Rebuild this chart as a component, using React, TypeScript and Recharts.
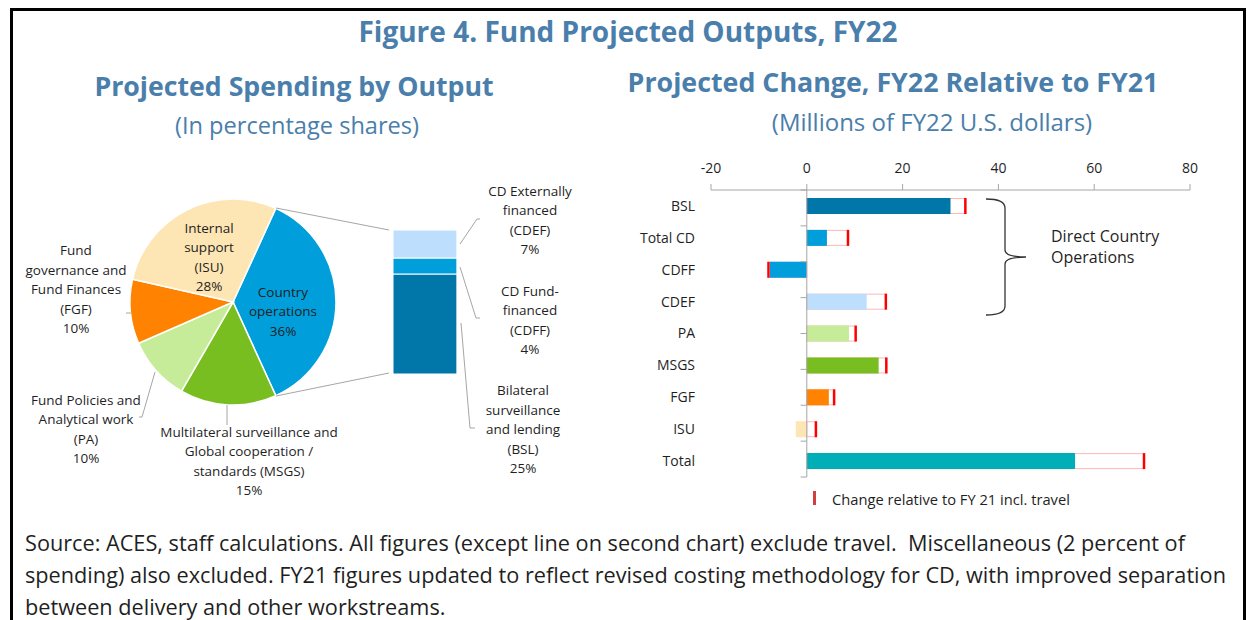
import React from "react";
import { Bar, BarChart, Cell, Pie, PieChart, ReferenceLine, XAxis, YAxis } from "recharts";

const FONT = "'Open Sans', 'Noto Sans', sans-serif";
const TITLE_BLUE = "#4A7EAB";
const INK = "#1F1F1F";
const AXIS_GREY = "#A6A6A6";

// left panel: projected spending by output (percentage shares)
const PIE_NAMES = ["Country operations", "MSGS", "PA", "FGF", "ISU"];
const PIE_SHARES = [36, 15, 10, 10, 28];
const PIE_COLOURS = ["#009EDB", "#78BE20", "#C6EC9A", "#FF8300", "#FDE5B4"];
const PIE_LABELS = [
  ["Country", "operations", "36%"],
  ["Multilateral surveillance and", "Global cooperation /", "standards (MSGS)", "15%"],
  ["Fund Policies and", "Analytical work", "(PA)", "10%"],
  ["Fund", "governance and", "Fund Finances", "(FGF)", "10%"],
  ["Internal", "support", "(ISU)", "28%"],
];

// country operations split
const CO_KEYS = ["BSL", "CDFF", "CDEF"];
const CO_SHARES = [25, 4, 7];
const CO_COLOURS = ["#0077A8", "#009EDB", "#BDDEFC"];

// right panel: change FY22 vs FY21, millions of FY22 USD
const CATEGORIES = ["BSL", "Total CD", "CDFF", "CDEF", "PA", "MSGS", "FGF", "ISU", "Total"];
const CHANGE_EX_TRAVEL = [30.0, 4.2, -7.7, 12.5, 8.8, 15.0, 4.6, -2.3, 56.0];
const CHANGE_INCL_TRAVEL = [33.1, 8.6, -8.0, 16.5, 10.2, 16.6, 5.7, 1.9, 70.4];
const BAR_COLOURS = ["#0077A8", "#009EDB", "#009EDB", "#BDDEFC", "#C6EC9A", "#78BE20", "#FF8300", "#FDE5B4", "#00AEB8"];
const X_TICKS = [-20, 0, 20, 40, 60, 80];

const FOOTNOTE = [
  "Source: ACES, staff calculations. All figures (except line on second chart) exclude travel.  Miscellaneous (2 percent of",
  "spending) also excluded. FY21 figures updated to reflect revised costing methodology for CD, with improved separation",
  "between delivery and other workstreams.",
];

// label placement relative to pie centre (text block centre) + leader lines
const PIE_LABEL_POS = [
  { dx: 50, dy: 9 },
  { dx: 16, dy: 159 },
  { dx: -147, dy: 127 },
  { dx: -157, dy: -13 },
  { dx: -24, dy: -45 },
];
const PIE_LEADERS: number[][][] = [
  [],
  [[-6, 103], [-6, 123]],
  [[-94, 115], [-91, 115], [-78, 70]],
  [[-107, 11], [-102, 11]],
  [],
];
const LINE_H = 19.5;

const pieData = PIE_NAMES.map((name, i) => ({ name, value: PIE_SHARES[i] }));
const pieTotal = PIE_SHARES.reduce((a, b) => a + b, 0);
const startAngle = ((PIE_SHARES[0] / pieTotal) * 360) / 2;

const coData = [Object.fromEntries([["name", "co"], ...CO_KEYS.map((k, i) => [k, CO_SHARES[i]])])];

const changeData = CATEGORIES.map((name, i) => ({
  name,
  ex: CHANGE_EX_TRAVEL[i],
  incl: CHANGE_INCL_TRAVEL[i],
}));

function Lines({ x, y, lines, size = 13.5, anchor = "middle" }: any) {
  const top = y - ((lines.length - 1) * LINE_H) / 2;
  return (
    <text x={x} y={top} textAnchor={anchor} fontSize={size} fontFamily={FONT} fill={INK}>
      {lines.map((l: string, i: number) => (
        <tspan key={i} x={x} y={top + i * LINE_H} dominantBaseline="central">
          {l}
        </tspan>
      ))}
    </text>
  );
}

function pieLabel(props: any) {
  const { cx, cy, index } = props;
  const p = PIE_LABEL_POS[index];
  const leader = PIE_LEADERS[index];
  return (
    <g>
      {leader.length > 0 && (
        <polyline
          points={leader.map(([dx, dy]) => `${cx + dx},${cy + dy}`).join(" ")}
          fill="none"
          stroke={AXIS_GREY}
          strokeWidth={1}
        />
      )}
      <Lines x={cx + p.dx} y={cy + p.dy} lines={PIE_LABELS[index]} />
    </g>
  );
}

function TravelBar(props: any) {
  const { x, y, width, height, payload } = props;
  const left = Math.min(x, x + width);
  const w = Math.abs(width);
  const end = payload.incl >= 0 ? left + w : left;
  return (
    <g>
      <rect x={left} y={y + 0.5} width={w} height={height - 1} fill="#FFFFFF" stroke="#FFB8B8" strokeWidth={1} />
      <line x1={end} x2={end} y1={y} y2={y + height} stroke="#FF0000" strokeWidth={2.5} />
    </g>
  );
}

function Txt({ cx, cy, size, bold, color = INK, children, w = 900 }: any) {
  return (
    <div
      style={{
        position: "absolute",
        left: cx - w / 2,
        top: cy - size * 0.7,
        width: w,
        height: size * 1.4,
        lineHeight: `${size * 1.4}px`,
        textAlign: "center",
        fontSize: size,
        fontWeight: bold ? 700 : 400,
        color,
        whiteSpace: "nowrap",
        fontFamily: FONT,
      }}
    >
      {children}
    </div>
  );
}

export default function App() {
  return (
    <div style={{ position: "absolute", left: 0, top: 0, width: 1247, height: 620, overflow: "hidden", background: "#fff", fontFamily: FONT }}>
      <div style={{ position: "absolute", left: 10, top: 8, width: 1236, height: 700, border: "3px solid #000", boxSizing: "border-box" }} />

      <Txt cx={628} cy={32} size={28} bold color={TITLE_BLUE}>Figure 4. Fund Projected Outputs, FY22</Txt>
      <Txt cx={294} cy={86} size={26.7} bold color={TITLE_BLUE}>Projected Spending by Output</Txt>
      <Txt cx={297} cy={126} size={23.6} color={TITLE_BLUE}>(In percentage shares)</Txt>
      <Txt cx={893} cy={82} size={26.8} bold color={TITLE_BLUE}>Projected Change, FY22 Relative to FY21</Txt>
      <Txt cx={932} cy={122} size={24} color={TITLE_BLUE}>(Millions of FY22 U.S. dollars)</Txt>

      {/* pie */}
      <div style={{ position: "absolute", left: 0, top: 170, width: 380, height: 340 }}>
        <PieChart width={380} height={340} margin={{ top: 0, right: 0, bottom: 0, left: 0 }}>
          <Pie
            data={pieData}
            dataKey="value"
            cx={233}
            cy={132}
            outerRadius={103}
            startAngle={startAngle}
            endAngle={startAngle - 360}
            stroke="#FFFFFF"
            strokeWidth={1.5}
            label={pieLabel}
            labelLine={false}
            isAnimationActive={false}
          >
            {pieData.map((d, i) => (
              <Cell key={d.name} fill={PIE_COLOURS[i]} />
            ))}
          </Pie>
        </PieChart>
      </div>

      {/* country operations split */}
      <div style={{ position: "absolute", left: 380, top: 220, width: 90, height: 170 }}>
        <BarChart width={90} height={170} data={coData} margin={{ top: 10, right: 10, bottom: 16, left: 9 }} barCategoryGap={0}>
          <XAxis dataKey="name" hide />
          <YAxis domain={[0, 36]} hide />
          {CO_KEYS.map((k, i) => (
            <Bar key={k} dataKey={k} stackId="co" fill={CO_COLOURS[i]} stroke="#FFFFFF" strokeWidth={1} barSize={71} isAnimationActive={false} />
          ))}
        </BarChart>
      </div>

      {/* change chart */}
      <div style={{ position: "absolute", left: 620, top: 140, width: 600, height: 360 }}>
        <BarChart
          layout="vertical"
          width={600}
          height={360}
          data={changeData}
          margin={{ top: 20, right: 30, bottom: 23, left: 0 }}
          barSize={16}
        >
          <XAxis
            type="number"
            orientation="top"
            domain={[-20, 80]}
            ticks={X_TICKS}
            height={30}
            axisLine={{ stroke: AXIS_GREY }}
            tickLine={{ stroke: AXIS_GREY }}
            tickSize={6}
            tickMargin={11}
            tick={{ fill: INK, fontSize: 14, fontFamily: FONT }}
          />
          <YAxis
            yAxisId="cat"
            type="category"
            dataKey="name"
            width={91}
            axisLine={false}
            tickLine={false}
            tickSize={0}
            tickMargin={16}
            interval={0}
            tick={{ fill: INK, fontSize: 14, fontFamily: FONT }}
          />
          <YAxis yAxisId="cat2" type="category" dataKey="name" hide />
          <YAxis yAxisId="num" type="number" domain={[0, CATEGORIES.length]} hide />
          <ReferenceLine yAxisId="cat" x={0} stroke={AXIS_GREY} />
          {CATEGORIES.map((c, k) => (
            <ReferenceLine
              key={c}
              yAxisId="num"
              segment={[{ x: -1.3, y: k }, { x: 0, y: k }]}
              stroke={AXIS_GREY}
            />
          ))}
          <Bar yAxisId="cat2" dataKey="incl" shape={TravelBar} isAnimationActive={false} />
          <Bar yAxisId="cat" dataKey="ex" isAnimationActive={false}>
            {changeData.map((d, i) => (
              <Cell key={d.name} fill={BAR_COLOURS[i]} />
            ))}
          </Bar>
        </BarChart>
      </div>

      {/* annotations */}
      <svg width={1247} height={620} style={{ position: "absolute", left: 0, top: 0, pointerEvents: "none" }}>
        <line x1={276} y1={208} x2={389} y2={230} stroke={AXIS_GREY} />
        <line x1={276} y1={396} x2={389} y2={373} stroke={AXIS_GREY} />
        <polyline points="460,244 477,219 480,219" fill="none" stroke={AXIS_GREY} />
        <polyline points="460,267 476,318 480,318" fill="none" stroke={AXIS_GREY} />
        <polyline points="461,323 470,428 475,428" fill="none" stroke={AXIS_GREY} />
        <Lines x={530} y={220} lines={["CD Externally", "financed", "(CDEF)", "7%"]} />
        <Lines x={530} y={320} lines={["CD Fund-", "financed", "(CDFF)", "4%"]} />
        <Lines x={523} y={429} lines={["Bilateral", "surveillance", "and lending", "(BSL)", "25%"]} />

        <path
          d="M986,199 Q1005,199 1005,208 L1005,250 Q1005,257 1026,257 Q1005,257 1005,264 L1005,306 Q1005,315 986,315"
          fill="none"
          stroke="#333"
          strokeWidth={1.3}
        />
        <text x={1051} y={236} fontSize={16} fontFamily={FONT} fill={INK} dominantBaseline="central">Direct Country</text>
        <text x={1051} y={257} fontSize={16} fontFamily={FONT} fill={INK} dominantBaseline="central">Operations</text>

        <rect x={813} y={491} width={3} height={14} fill="#D04040" />
        <text x={832} y={499} fontSize={14.7} fontFamily={FONT} fill={INK} dominantBaseline="central">
          Change relative to FY 21 incl. travel
        </text>
      </svg>

      {FOOTNOTE.map((l, i) => (
        <div
          key={i}
          style={{ position: "absolute", left: 25, top: 543 + i * 32 - 15, height: 30, lineHeight: "30px", fontSize: 21.7, color: INK, whiteSpace: "pre", fontFamily: FONT }}
        >
          {l}
        </div>
      ))}
    </div>
  );
}
